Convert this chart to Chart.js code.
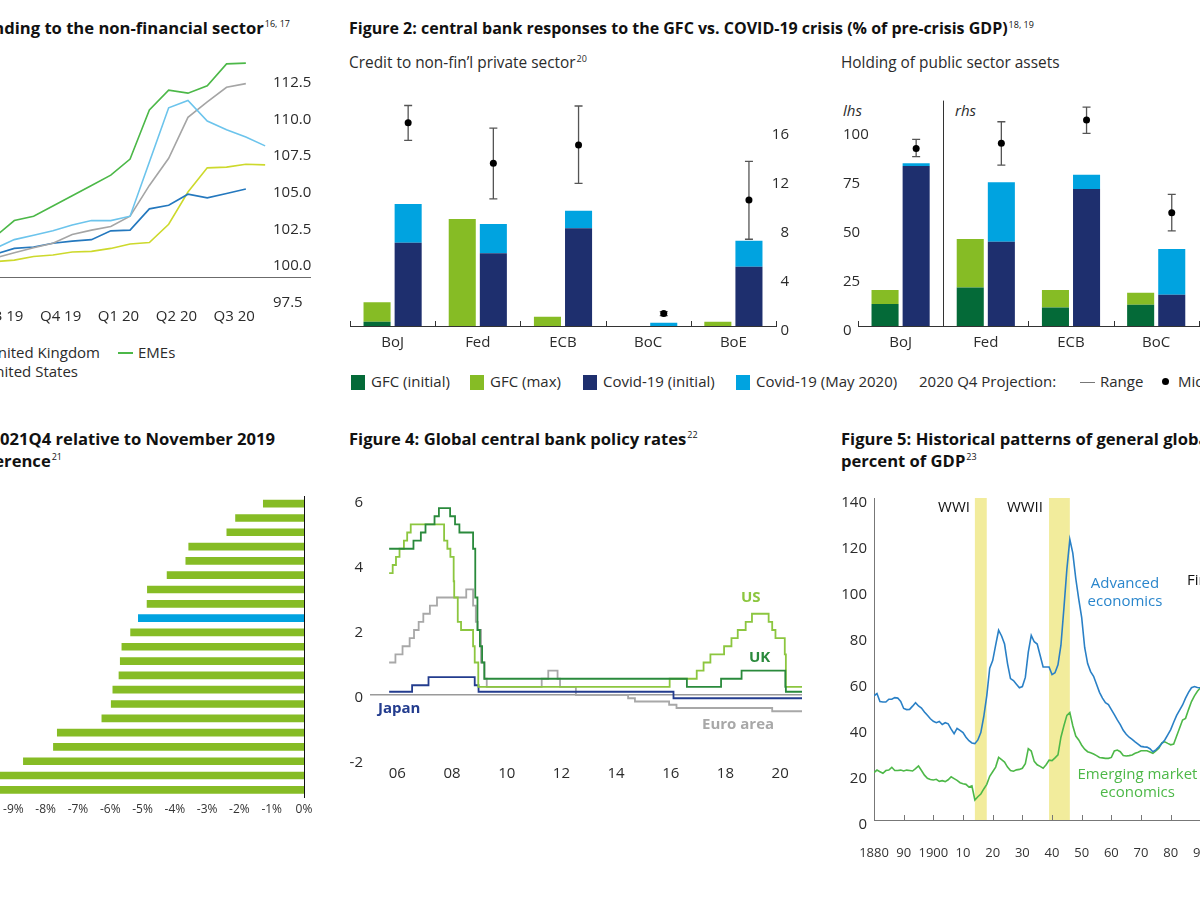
<!DOCTYPE html>
<html><head><meta charset="utf-8"><title>Central bank figures</title>
<script src="https://cdn.jsdelivr.net/npm/chart.js@4.4.1/dist/chart.umd.min.js"></script>
<style>
html,body{margin:0;padding:0;background:#fff;}
body{width:1200px;height:900px;position:relative;overflow:hidden;font-family:'Open Sans',sans-serif;color:#2b2b2b;}
canvas{position:absolute;}
.t{position:absolute;white-space:nowrap;font-weight:700;font-size:16.6px;line-height:20px;color:#111;}
.t2{font-size:16px;}
.s{position:absolute;white-space:nowrap;font-size:15px;line-height:18px;color:#2b2b2b;}
.sub{font-size:15.4px;}
sup{font-size:9px;font-weight:400;line-height:0;vertical-align:super;margin-left:1px;}
.sw{display:inline-block;width:14px;height:15px;vertical-align:-3px;margin-right:6px;}
.dash{display:inline-block;width:15px;height:2px;vertical-align:4px;margin-right:5px;}
.dot{display:inline-block;width:7px;height:7px;border-radius:50%;background:#000;vertical-align:2px;margin-right:9px;}
.lbl{position:absolute;white-space:nowrap;font-weight:700;font-size:15px;line-height:18px;}
.ann{position:absolute;white-space:nowrap;font-size:15px;line-height:18px;text-align:center;}
</style></head><body>

<!-- Figure 1 -->
<div class="t" style="right:910px;top:18px">Figure 1: Bank lending to the non-financial sector<sup>16, 17</sup></div>
<canvas id="c1" width="360" height="300" style="left:-40px;top:40px;width:360px;height:300px"></canvas>
<div class="s" style="left:-230px;top:343px"><span class="dash" style="background:#cdd92c"></span>Euro area</div>
<div class="s" style="left:-230px;top:362px"><span class="dash" style="background:#a5a5a5"></span>Japan</div>
<div class="s" style="right:1100px;top:343px"><span class="dash" style="background:#6cc4ec"></span>United Kingdom</div>
<div class="s" style="right:1122px;top:362px"><span class="dash" style="background:#2478be"></span>United States</div>
<div class="s" style="left:118px;top:343px"><span class="dash" style="background:#4cb848"></span>EMEs</div>

<!-- Figure 2 -->
<div class="t t2" style="left:349px;top:18px">Figure 2: central bank responses to the GFC vs. COVID-19 crisis (% of pre-crisis GDP)<sup>18, 19</sup></div>
<div class="s sub" style="left:349px;top:54px">Credit to non-fin’l private sector<sup>20</sup></div>
<div class="s sub" style="left:841px;top:54px">Holding of public sector assets</div>
<div class="s" style="left:843px;top:101px;font-style:italic">lhs</div>
<div class="s" style="left:955px;top:101px;font-style:italic">rhs</div>
<canvas id="c2a" width="460" height="280" style="left:340px;top:80px;width:460px;height:280px"></canvas>
<canvas id="c2b" width="470" height="280" style="left:830px;top:80px;width:470px;height:280px"></canvas>
<div class="s" style="left:351px;top:372px"><span class="sw" style="background:#046a38"></span>GFC (initial)</div>
<div class="s" style="left:470px;top:372px"><span class="sw" style="background:#86bc25"></span>GFC (max)</div>
<div class="s" style="left:583px;top:372px"><span class="sw" style="background:#1e2f6e"></span>Covid-19 (initial)</div>
<div class="s" style="left:736px;top:372px"><span class="sw" style="background:#00a3e0"></span>Covid-19 (May 2020)</div>
<div class="s" style="left:919px;top:372px">2020 Q4 Projection:</div>
<div class="s" style="left:1080px;top:372px"><span class="dash" style="background:#777;height:1.5px"></span>Range</div>
<div class="s" style="left:1162px;top:372px"><span class="dot"></span>Midpoint</div>

<!-- Figure 3 -->
<div class="t" style="right:925px;top:429px">Figure 3: GDP in 2021Q4 relative to November 2019</div>
<div class="t" style="right:1138px;top:451px">forecast, percentage difference<sup>21</sup></div>
<canvas id="c3" width="460" height="350" style="left:-140px;top:480px;width:460px;height:350px"></canvas>

<!-- Figure 4 -->
<div class="t" style="left:349px;top:429px">Figure 4: Global central bank policy rates<sup>22</sup></div>
<canvas id="c4" width="470" height="320" style="left:340px;top:470px;width:470px;height:320px"></canvas>
<div class="lbl" style="left:741px;top:587px;color:#8cc63f">US</div>
<div class="lbl" style="left:749px;top:647px;color:#2a8a3c">UK</div>
<div class="lbl" style="left:378px;top:698px;color:#233c8e">Japan</div>
<div class="lbl" style="left:702px;top:714px;color:#a8a8a8">Euro area</div>

<!-- Figure 5 -->
<div class="t" style="left:841px;top:429px">Figure 5: Historical patterns of general global government debt, in</div>
<div class="t" style="left:841px;top:451px">percent of GDP<sup>23</sup></div>
<canvas id="c5" width="480" height="390" style="left:830px;top:480px;width:480px;height:390px"></canvas>
<div class="ann" style="right:230px;top:497px;color:#111">WWI</div>
<div class="ann" style="right:157px;top:497px;color:#111">WWII</div>
<div class="ann" style="left:1065px;width:120px;top:573px;color:#2a86cc">Advanced<br>economics</div>
<div class="ann" style="left:1067px;width:141px;top:764px;color:#4db848">Emerging market<br>economics</div>
<div class="ann" style="left:1187px;top:570px;color:#111;text-align:left">First oil shock</div>

<script>
// ---------- Figure 1 data (index, month 0 = Jan 2019) ----------
const f1Months = [6, 7, 8, 9, 10, 11, 12, 13, 14, 15, 16, 17, 18, 19, 20, 21];
const f1EMEs   = [100, 102.0, 103.1, 103.4, 104.1, 104.8, 105.5, 106.2, 107.3, 110.65, 112.0, 111.8, 112.3, 113.8, 113.85, null];
const f1UK     = [100, 101.2, 101.8, 102.1, 102.4, 102.8, 103.1, 103.1, 103.4, 107.1, 110.8, 111.3, 109.9, 109.3, 108.8, 108.2];
const f1US     = [100, 100.8, 101.2, 101.3, 101.55, 101.7, 101.8, 102.4, 102.45, 103.9, 104.15, 104.9, 104.65, 104.95, 105.25, null];
const f1Japan  = [100, 100.55, 100.9, 101.25, 101.55, 102.15, 102.45, 102.7, 103.4, 105.5, 107.35, 110.15, 111.2, 112.2, 112.45, null];
const f1Euro   = [100, 100.3, 100.4, 100.65, 100.75, 100.95, 101.0, 101.2, 101.5, 101.6, 102.85, 105.05, 106.7, 106.75, 106.95, 106.9];
const f1TickPos = [7.4, 10.4, 13.4, 16.4, 19.4];
const f1TickLabels = ['Q3 19', 'Q4 19', 'Q1 20', 'Q2 20', 'Q3 20'];
const f1AxisLine = 99.25;

// ---------- Figure 2 data ----------
const f2Banks = ['BoJ', 'Fed', 'ECB', 'BoC', 'BoE'];
const f2CreditGfcInit = [0.35, 0, 0, 0, 0];
const f2CreditGfcMax  = [1.93, 8.73, 0.76, 0, 0.35];
const f2CreditCovInit = [6.8, 5.93, 7.97, 0, 4.84];
const f2CreditCovMay  = [9.96, 8.33, 9.41, 0.27, 6.96];
const f2CreditLow  = [15.15, 10.37, 11.65, 0.84, 7.08];
const f2CreditMid  = [16.6, 13.28, 14.78, 1.03, 10.29];
const f2CreditHigh = [18.0, 16.16, 17.96, 1.17, 13.44];
const f2PublicGfcInit = [11.2, 19.7, 9.5, 10.9, null];
const f2PublicGfcMax  = [18.4, 44.4, 18.4, 17.0, null];
const f2PublicCovInit = [81.6, 43.0, 69.9, 16.0, null];
const f2PublicCovMay  = [83.0, 73.3, 77.2, 39.3, null];
const f2PublicLow  = [86.4, 82.1, 98.3, 48.5, null];
const f2PublicMid  = [90.6, 93.2, 105.1, 57.8, null];
const f2PublicHigh = [95.2, 104.2, 111.7, 67.2, null];

// ---------- Figure 3 data ----------
const f3Labels = ['Economy 1','Economy 2','Economy 3','Economy 4','Economy 5','Economy 6','Economy 7','Economy 8','Average','Economy 9','Economy 10','Economy 11','Economy 12','Economy 13','Economy 14','Economy 15','Economy 16','Economy 17','Economy 18','Economy 19','Economy 20'];
const f3Values = [-1.26, -2.12, -2.39, -3.57, -3.66, -4.24, -4.85, -4.86, -5.13, -5.37, -5.64, -5.69, -5.73, -5.92, -5.97, -6.26, -7.64, -7.76, -8.69, -10.3, -11.2];
const f3Highlight = 8;

// ---------- Figure 4 data (policy-rate change dates, decimal years) ----------
const f4USDates = [2005.70, 2005.83, 2005.95, 2006.08, 2006.24, 2006.36, 2006.49, 2007.71, 2007.83, 2007.94, 2008.06, 2008.08, 2008.21, 2008.33, 2008.77, 2008.83, 2008.96, 2015.96, 2016.95, 2017.20, 2017.45, 2017.95, 2018.22, 2018.45, 2018.74, 2018.97, 2019.58, 2019.71, 2019.83, 2020.17, 2020.21, 2020.80];
const f4USRates = [3.75, 4.0, 4.25, 4.5, 4.75, 5.0, 5.25, 4.75, 4.5, 4.25, 3.5, 3.0, 2.25, 2.0, 1.5, 1.0, 0.25, 0.5, 0.75, 1.0, 1.25, 1.5, 1.75, 2.0, 2.25, 2.5, 2.25, 2.0, 1.75, 1.25, 0.25, 0.25];
const f4UKDates = [2005.70, 2006.59, 2006.86, 2007.03, 2007.36, 2007.52, 2007.93, 2008.11, 2008.27, 2008.77, 2008.85, 2008.93, 2009.02, 2009.10, 2009.18, 2016.59, 2017.84, 2018.59, 2020.19, 2020.21, 2020.80];
const f4UKRates = [4.5, 4.75, 5.0, 5.25, 5.5, 5.75, 5.5, 5.25, 5.0, 4.5, 3.0, 2.0, 1.5, 1.0, 0.5, 0.25, 0.5, 0.75, 0.25, 0.1, 0.1];
const f4JapanDates = [2005.70, 2006.54, 2007.14, 2008.83, 2008.97, 2016.10, 2020.80];
const f4JapanRates = [0.1, 0.3, 0.55, 0.3, 0.1, -0.1, -0.1];
const f4EuroDates = [2005.70, 2005.93, 2006.19, 2006.45, 2006.61, 2006.78, 2006.95, 2007.19, 2007.45, 2008.52, 2008.77, 2008.87, 2008.94, 2009.06, 2009.19, 2009.27, 2011.28, 2011.52, 2011.86, 2011.95, 2012.53, 2014.44, 2014.69, 2015.94, 2016.21, 2019.71, 2020.80];
const f4EuroRates = [1.0, 1.25, 1.5, 1.75, 2.0, 2.25, 2.5, 2.75, 3.0, 3.25, 2.75, 2.25, 2.0, 1.0, 0.5, 0.25, 0.5, 0.75, 0.5, 0.25, 0.0, -0.1, -0.2, -0.3, -0.4, -0.5, -0.5];
const f4YearTicks = [2006, 2008, 2010, 2012, 2014, 2016, 2018, 2020];

// ---------- Figure 5 data (general government debt, % of GDP) ----------
const f5Years = [];
for (let y = 1880; y <= 1990; y++) f5Years.push(y);
const f5Advanced = [
  54, 55, 51.5, 51.3, 51.3, 52.5, 52.5, 53.2, 53, 51.5,
  48.5, 48, 48.1, 49.5, 51, 49.6, 48.7, 47, 45.5, 44,
  42.9, 42.3, 42.8, 41.5, 42.3, 41.8, 39.5, 37.5, 39.8, 39,
  38, 36, 34.5, 33.5, 33.2, 34.8, 38, 45, 54, 66,
  69.3, 76, 82.5, 80, 76.5, 68, 61.5, 60.6, 59, 57.5,
  58, 62, 73, 80.3, 77.5, 76.5, 71.5, 66.5, 66.5, 66.5,
  63.2, 64, 67.5, 76, 92, 109, 122, 116, 105, 96,
  88, 75, 68, 64.5, 62.5, 59, 55.5, 53, 51, 50.2,
  48, 45.8, 43.5, 41.5, 39, 37.3, 36, 35.1, 34, 33,
  32, 31.8, 31.7, 31, 29.7, 30.5, 31.8, 33.3, 34.8, 37,
  39.3, 42.5, 45.5, 47.8, 50, 53, 55.5, 57.5, 58, 57.6, 57.5
];
const f5Emerging = [
  20.6, 21.7, 21, 20.3, 21.5, 21.7, 22.9, 21.5, 21.5, 21.7,
  21.3, 21.7, 21.5, 21.3, 22.3, 23.5, 21.5, 19.5, 18.1, 17.6,
  17.4, 17.7, 16.8, 17.1, 16.7, 17.5, 18.8, 18, 17.2, 16.2,
  15.8, 15.5, 14.3, 14.8, 8.7, 10.1, 11.3, 13.5, 15.5, 19,
  21, 23, 27.2, 26.2, 25.2, 23, 21.5, 21.2, 21.8, 22,
  22.5, 24.5, 31, 30, 25.5, 24, 23.3, 22.5, 24, 26,
  25.8, 27, 28.3, 36, 41, 45.5, 46.7, 41, 36.5, 34.8,
  32.5, 30.8, 29.7, 29.2, 28.7, 28, 27.2, 27, 26.8, 26.8,
  27.2, 30, 30.4, 29.7, 28, 27.8, 28, 28.3, 29, 29.5,
  30.1, 30.1, 30.1, 29.6, 29, 30, 31.2, 33.5, 34, 33.3,
  32.7, 33, 36.5, 40, 43.5, 44.2, 48, 51.5, 54, 56, 57.5
];
const f5WarBands = [[1914, 1918], [1939, 1946]];

// ---------- styling ----------
const COL = {
  dkGreen:'#046a38', ltGreen:'#86bc25', navy:'#1e2f6e', ltBlue:'#00a3e0',
  emes:'#4cb848', uk1:'#6cc4ec', us1:'#2478be', jp1:'#a5a5a5', eu1:'#cdd92c',
  us4:'#8cc63f', uk4:'#2a8a3c', jp4:'#233c8e', eu4:'#a8a8a8',
  adv:'#2a80c6', em:'#4db848'
};
const NARROW = "'Liberation Sans Narrow', 'Open Sans', sans-serif";
Chart.defaults.animation = false;
Chart.defaults.font.family = "'Open Sans', sans-serif";
Chart.defaults.font.size = 15;
Chart.defaults.color = '#2b2b2b';
Chart.defaults.plugins.legend.display = false;
Chart.defaults.plugins.tooltip.enabled = false;
Chart.defaults.events = [];

function fixed(size, dim) {
  return function (s) { s[dim] = size; s.paddingTop = 0; s.paddingBottom = 0; s.paddingLeft = 0; s.paddingRight = 0; };
}
const NOGRID = {display:true, drawOnChartArea:false, drawTicks:false, color:'rgba(0,0,0,0)'};

// ---------- plugins ----------
const hLine = {id:'hLine', afterDatasetsDraw(c, a, o) {
  const y = Math.round(c.scales.y.getPixelForValue(o.value)) + 0.5, ctx = c.ctx;
  ctx.save(); ctx.strokeStyle = o.color; ctx.lineWidth = 1;
  ctx.beginPath(); ctx.moveTo(c.chartArea.left, y); ctx.lineTo(c.scales.y.right - (o.trim || 0), y); ctx.stroke(); ctx.restore();
}};
const upTicks = {id:'upTicks', afterDraw(c, a, o) {
  const s = c.scales.x, ctx = c.ctx, b = c.chartArea.bottom;
  let xs = [];
  if (o.mode === 'cat') { const n = s.getLabels().length; for (let k = 0; k <= n; k++) xs.push(s.left + k * (s.right - s.left) / n); }
  else { xs = s.ticks.map(t => s.getPixelForValue(t.value)); if (o.skipFirst) xs = xs.slice(1); }
  ctx.save(); ctx.strokeStyle = o.color; ctx.lineWidth = 1; ctx.beginPath();
  xs.forEach(x => { const xx = Math.round(x) + 0.5; ctx.moveTo(xx, b); ctx.lineTo(xx, b - o.len); });
  ctx.stroke(); ctx.restore();
}};
const errorBars = {id:'errorBars', afterDatasetsDraw(c, a, o) {
  const meta = c.getDatasetMeta(o.ds), y = c.scales.y, ctx = c.ctx;
  ctx.save();
  o.low.forEach((lo, i) => {
    if (lo == null) return;
    const x = meta.data[i].x;
    const yl = y.getPixelForValue(lo), yh = y.getPixelForValue(o.high[i]), ym = y.getPixelForValue(o.mid[i]);
    ctx.strokeStyle = '#555'; ctx.lineWidth = 1.3; ctx.beginPath();
    ctx.moveTo(x, yl); ctx.lineTo(x, yh);
    ctx.moveTo(x - 4, yl); ctx.lineTo(x + 4, yl);
    ctx.moveTo(x - 4, yh); ctx.lineTo(x + 4, yh);
    ctx.stroke();
    ctx.fillStyle = '#000'; ctx.beginPath(); ctx.arc(x, ym, 3.5, 0, Math.PI * 2); ctx.fill();
  });
  ctx.restore();
}};
const divider = {id:'divider', afterDraw(c, a, o) {
  const s = c.scales.x, n = s.getLabels().length, ctx = c.ctx;
  const x = Math.round(s.left + (s.right - s.left) / n) + 0.5;
  ctx.save(); ctx.strokeStyle = '#333'; ctx.lineWidth = 1; ctx.beginPath();
  ctx.moveTo(x, c.scales.y.getPixelForValue(o.top)); ctx.lineTo(x, c.chartArea.bottom); ctx.stroke(); ctx.restore();
}};
const bands = {id:'bands', beforeDatasetsDraw(c, a, o) {
  const s = c.scales.x, {top, bottom} = c.chartArea, ctx = c.ctx;
  ctx.save(); ctx.fillStyle = o.color;
  o.ranges.forEach(r => { const x1 = s.getPixelForValue(r[0]), x2 = s.getPixelForValue(r[1]); ctx.fillRect(x1, top, x2 - x1, bottom - top); });
  ctx.restore();
}};

// ---------- Figure 1 ----------
const ptsF1 = arr => f1Months.map((m, i) => ({x:m, y:arr[i]}));
new Chart(document.getElementById('c1'), {
  type:'line',
  data:{datasets:[
    {label:'EMEs', data:ptsF1(f1EMEs), borderColor:COL.emes},
    {label:'United Kingdom', data:ptsF1(f1UK), borderColor:COL.uk1},
    {label:'Japan', data:ptsF1(f1Japan), borderColor:COL.jp1},
    {label:'United States', data:ptsF1(f1US), borderColor:COL.us1},
    {label:'Euro area', data:ptsF1(f1Euro), borderColor:COL.eu1}
  ]},
  options:{
    responsive:false, maintainAspectRatio:false,
    layout:{padding:{left:8, top:13.6, right:6, bottom:0}},
    elements:{point:{radius:0}, line:{borderWidth:1.6, tension:0, fill:false}},
    scales:{
      x:{type:'linear', min:5.6, max:21.2, grid:{display:false, drawTicks:false}, border:{display:false},
         afterBuildTicks:s => { s.ticks = f1TickPos.map(v => ({value:v})); },
         ticks:{padding:5, autoSkip:false, maxRotation:0, callback:(v, i) => f1TickLabels[i]},
         afterFit:fixed(37.4, 'height')},
      y:{position:'right', min:97.5, max:114.5, grid:{display:false, drawTicks:false}, border:{display:false},
         ticks:{stepSize:2.5, includeBounds:false, padding:4, callback:v => Number(v).toFixed(1)},
         afterFit:fixed(45, 'width')}
    },
    plugins:{hLine:{value:f1AxisLine, color:'#6b6b6b', trim:3}}
  },
  plugins:[hLine]
});

// ---------- Figure 2 ----------
function fig2Datasets(gi, gm, ci, cm) {
  const bp = 0.87, cp = 0.73;
  return [
    {label:'GFC (initial)', data:gi, backgroundColor:COL.dkGreen, stack:'gfc', barPercentage:bp, categoryPercentage:cp},
    {label:'GFC (max)', data:gm.map((v, i) => v == null ? null : v - (gi[i] || 0)), backgroundColor:COL.ltGreen, stack:'gfc', barPercentage:bp, categoryPercentage:cp},
    {label:'Covid-19 (initial)', data:ci, backgroundColor:COL.navy, stack:'cov', barPercentage:bp, categoryPercentage:cp},
    {label:'Covid-19 (May 2020)', data:cm.map((v, i) => v == null ? null : v - (ci[i] || 0)), backgroundColor:COL.ltBlue, stack:'cov', barPercentage:bp, categoryPercentage:cp}
  ];
}
new Chart(document.getElementById('c2a'), {
  type:'bar',
  data:{labels:f2Banks, datasets:fig2Datasets(f2CreditGfcInit, f2CreditGfcMax, f2CreditCovInit, f2CreditCovMay)},
  options:{
    responsive:false, maintainAspectRatio:false,
    layout:{padding:{left:10, right:24, top:13.25, bottom:0}},
    scales:{
      x:{stacked:true, grid:NOGRID, border:{display:true, color:'#333', width:1}, ticks:{padding:8}, afterFit:fixed(34, 'height')},
      y:{stacked:true, position:'right', min:0, max:19, grid:{display:false, drawTicks:false}, border:{display:false},
         ticks:{stepSize:4, includeBounds:false, mirror:true, padding:13, labelOffset:5}, afterFit:fixed(0, 'width')}
    },
    plugins:{upTicks:{mode:'cat', len:5, color:'#333'}, errorBars:{ds:3, low:f2CreditLow, mid:f2CreditMid, high:f2CreditHigh}}
  },
  plugins:[upTicks, errorBars]
});
new Chart(document.getElementById('c2b'), {
  type:'bar',
  data:{labels:f2Banks, datasets:fig2Datasets(f2PublicGfcInit, f2PublicGfcMax, f2PublicCovInit, f2PublicCovMay)},
  options:{
    responsive:false, maintainAspectRatio:false,
    layout:{padding:{left:28, right:16, top:10.8, bottom:0}},
    scales:{
      x:{stacked:true, grid:NOGRID, border:{display:true, color:'#333', width:1}, ticks:{padding:8}, afterFit:fixed(34, 'height')},
      y:{stacked:true, position:'left', min:0, max:120, grid:{display:false, drawTicks:false}, border:{display:false},
         ticks:{stepSize:25, includeBounds:false, mirror:true, padding:-15, labelOffset:5}, afterFit:fixed(0, 'width')}
    },
    plugins:{upTicks:{mode:'cat', len:5, color:'#333'}, errorBars:{ds:3, low:f2PublicLow, mid:f2PublicMid, high:f2PublicHigh}, divider:{top:115}}
  },
  plugins:[upTicks, errorBars, divider]
});

// ---------- Figure 3 ----------
new Chart(document.getElementById('c3'), {
  type:'bar',
  data:{labels:f3Labels, datasets:[{label:'GDP difference', data:f3Values,
    backgroundColor:f3Values.map((v, i) => i === f3Highlight ? COL.ltBlue : COL.ltGreen), barThickness:7}]},
  options:{
    indexAxis:'y', responsive:false, maintainAspectRatio:false,
    layout:{padding:{left:0, right:16, top:16.5, bottom:0}},
    scales:{
      x:{type:'linear', min:-13.75, max:0, grid:{display:false, drawTicks:false}, border:{display:false},
         ticks:{stepSize:1, includeBounds:false, padding:5, autoSkip:false, maxRotation:0, minRotation:0, color:'#333', font:{family:NARROW, size:12}, callback:v => v + '%'},
         afterFit:fixed(33, 'height')},
      y:{position:'right', grid:NOGRID, border:{display:true, color:'#111', width:1}, ticks:{display:false}, afterFit:fixed(0, 'width')}
    }
  }
});

// ---------- Figure 4 ----------
const stepPts = (d, r) => d.map((x, i) => ({x:x, y:r[i]}));
new Chart(document.getElementById('c4'), {
  type:'line',
  data:{datasets:[
    {label:'UK', data:stepPts(f4UKDates, f4UKRates), borderColor:COL.uk4, stepped:true},
    {label:'US', data:stepPts(f4USDates, f4USRates), borderColor:COL.us4, stepped:true},
    {label:'Japan', data:stepPts(f4JapanDates, f4JapanRates), borderColor:COL.jp4, stepped:true},
    {label:'Euro area', data:stepPts(f4EuroDates, f4EuroRates), borderColor:COL.eu4, stepped:true}
  ]},
  options:{
    responsive:false, maintainAspectRatio:false,
    layout:{padding:{left:0, right:8, top:17, bottom:0}},
    elements:{point:{radius:0}, line:{borderWidth:1.8, tension:0, fill:false}},
    scales:{
      x:{type:'linear', min:2005, max:2020.8, grid:{display:false, drawTicks:false}, border:{display:false},
         afterBuildTicks:s => { s.ticks = f4YearTicks.map(v => ({value:v})); },
         ticks:{autoSkip:false, maxRotation:0, padding:5, callback:v => String(v % 100).padStart(2, '0')},
         afterFit:fixed(30, 'height')},
      y:{min:-2, max:6.4, border:{display:false},
         grid:{drawTicks:false, lineWidth:1.5, color:c => (c.tick && c.tick.value === 0) ? '#9a9a9a' : 'rgba(0,0,0,0)'},
         ticks:{stepSize:2, includeBounds:false, padding:7, labelOffset:3}, afterFit:fixed(30, 'width')}
    }
  }
});

// ---------- Figure 5 ----------
new Chart(document.getElementById('c5'), {
  type:'line',
  data:{datasets:[
    {label:'Advanced economics', data:f5Years.map((y, i) => ({x:y, y:f5Advanced[i]})), borderColor:COL.adv},
    {label:'Emerging market economics', data:f5Years.map((y, i) => ({x:y, y:f5Emerging[i]})), borderColor:COL.em}
  ]},
  options:{
    responsive:false, maintainAspectRatio:false,
    layout:{padding:{left:0, right:20.6, top:18, bottom:0}},
    elements:{point:{radius:0}, line:{borderWidth:1.6, tension:0, fill:false}},
    scales:{
      x:{type:'linear', min:1880, max:2020, grid:NOGRID, border:{display:true, color:'#777', width:1},
         ticks:{stepSize:10, autoSkip:false, maxRotation:0, padding:25, color:'#333', font:{family:NARROW, size:13},
                callback:v => (v === 1880 || v % 100 === 0) ? String(v) : String(v % 100).padStart(2, '0')},
         afterFit:fixed(50, 'height')},
      y:{min:0, max:140, grid:NOGRID, border:{display:true, color:'#777', width:1},
         ticks:{stepSize:20, padding:7, labelOffset:5}, afterFit:fixed(44, 'width')}
    },
    plugins:{bands:{ranges:f5WarBands, color:'#f2ec9c'}, upTicks:{mode:'ticks', len:5, color:'#777', skipFirst:true}}
  },
  plugins:[bands, upTicks]
});
</script>
</body></html>
